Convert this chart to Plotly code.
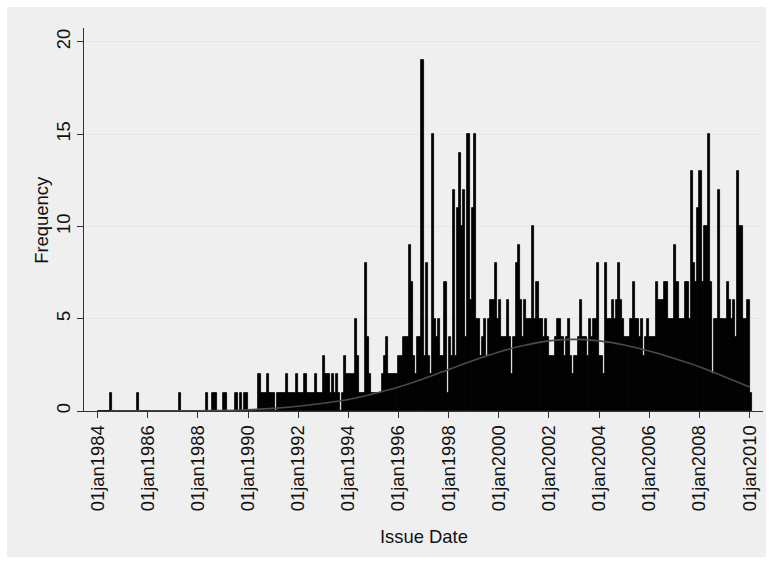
import plotly.graph_objects as go

# Monthly frequencies (Jan..Dec of each year)
counts_1984 = [0, 0, 0, 0, 0, 0, 1, 0, 0, 0, 0, 0]
counts_1985 = [0, 0, 0, 0, 0, 0, 0, 1, 0, 0, 0, 0]
counts_1986 = [0, 0, 0, 0, 0, 0, 0, 0, 0, 0, 0, 0]
counts_1987 = [0, 0, 0, 1, 0, 0, 0, 0, 0, 0, 0, 0]
counts_1988 = [0, 0, 0, 0, 1, 0, 0, 1, 1, 0, 0, 0]
counts_1989 = [1, 1, 0, 0, 0, 0, 1, 0, 1, 0, 1, 1]
counts_1990 = [0, 0, 0, 0, 0, 2, 1, 1, 1, 2, 1, 1]
counts_1991 = [1, 0, 1, 1, 1, 1, 2, 1, 1, 1, 1, 2]
counts_1992 = [1, 1, 1, 2, 1, 1, 1, 1, 2, 1, 1, 1]
counts_1993 = [3, 2, 2, 1, 2, 1, 2, 1, 0, 1, 3, 2]
counts_1994 = [2, 2, 2, 5, 3, 1, 1, 1, 8, 4, 2, 1]
counts_1995 = [1, 1, 1, 1, 2, 3, 4, 2, 2, 2, 2, 2]
counts_1996 = [3, 3, 4, 4, 4, 9, 7, 3, 2, 4, 4, 19]
counts_1997 = [3, 8, 3, 2, 15, 5, 4, 5, 3, 3, 7, 1]
counts_1998 = [4, 3, 12, 3, 11, 14, 10, 12, 4, 15, 6, 11]
counts_1999 = [15, 5, 5, 3, 4, 5, 3, 5, 6, 6, 8, 5]
counts_2000 = [6, 4, 4, 4, 6, 4, 2, 4, 8, 9, 6, 4]
counts_2001 = [6, 5, 5, 5, 10, 5, 7, 5, 5, 4, 5, 4]
counts_2002 = [3, 3, 3, 4, 5, 5, 4, 3, 4, 5, 3, 2]
counts_2003 = [3, 3, 4, 6, 4, 4, 3, 5, 4, 5, 5, 8]
counts_2004 = [3, 3, 2, 8, 5, 5, 6, 5, 6, 8, 6, 5]
counts_2005 = [4, 4, 4, 5, 7, 5, 5, 4, 5, 3, 4, 5]
counts_2006 = [4, 4, 4, 7, 6, 6, 6, 7, 7, 5, 5, 5]
counts_2007 = [9, 7, 5, 5, 5, 7, 7, 5, 13, 8, 7, 11]
counts_2008 = [13, 7, 10, 10, 15, 7, 2, 5, 5, 12, 5, 5]
counts_2009 = [5, 7, 6, 5, 6, 4, 13, 10, 10, 5, 5, 6]
counts_2010 = [1]

years = list(range(1984, 2011))
yearly_counts = [counts_1984, counts_1985, counts_1986, counts_1987, counts_1988,
                 counts_1989, counts_1990, counts_1991, counts_1992, counts_1993,
                 counts_1994, counts_1995, counts_1996, counts_1997, counts_1998,
                 counts_1999, counts_2000, counts_2001, counts_2002, counts_2003,
                 counts_2004, counts_2005, counts_2006, counts_2007, counts_2008,
                 counts_2009, counts_2010]

# Normal density overlay (frequency scale)
curve_years = [1984.5, 1986, 1988, 1989, 1990, 1991, 1992, 1993, 1994, 1995, 1996,
               1997, 1998, 1999, 2000, 2001, 2002, 2003, 2004, 2005, 2006, 2007,
               2008, 2009, 2010]
curve_vals = [0.0, 0.0, 0.01, 0.03, 0.07, 0.14, 0.26, 0.42, 0.62, 0.93, 1.3,
              1.75, 2.25, 2.75, 3.2, 3.55, 3.8, 3.88, 3.8, 3.58, 3.25, 2.85,
              2.4, 1.85, 1.3]

tick_years = list(range(1984, 2011, 2))
tick_labels = ["01jan%d" % y for y in tick_years]
y_ticks = [0, 5, 10, 15, 20]

xs, ys = [], []
for yr, vals in zip(years, yearly_counts):
    for i, v in enumerate(vals):
        xs.append(yr + (i + 0.5) / 12.0)
        ys.append(v)

FONT = "Liberation Sans, Arial, Helvetica, sans-serif"
AXC = "#333333"
TXC = "#111111"
FS = 18.4

fig = go.Figure()
fig.add_trace(go.Bar(x=xs, y=ys, width=1 / 12.0,
                     marker=dict(color="black", line=dict(color="black", width=0.8)),
                     showlegend=False, hoverinfo="x+y"))
fig.add_trace(go.Scatter(x=curve_years, y=curve_vals, mode="lines",
                         line=dict(color="#4a4a4a", width=1.6, shape="spline"),
                         showlegend=False))

L, R, T, B = 84, 771 - 763, 28, 565 - 411.5
W, H = 771 - L - R, 565 - T - B

def px(xp):
    return (xp - L) / W

def py(yp):
    return (411.5 - yp) / H

fig.update_layout(
    width=771, height=565,
    margin=dict(l=L, r=R, t=T, b=B, autoexpand=False),
    paper_bgcolor="white", plot_bgcolor="white",
    bargap=0,
    font=dict(family=FONT, size=FS, color=TXC),
    shapes=[dict(type="rect", xref="paper", yref="paper",
                 x0=px(7), x1=px(766), y0=py(558), y1=py(7),
                 fillcolor="#efefef", line=dict(width=0), layer="below")],
    annotations=[
        dict(text="Issue Date", x=px(424), y=py(537), xref="paper", yref="paper",
             showarrow=False, xanchor="center", yanchor="middle",
             font=dict(size=FS, family=FONT, color=TXC)),
        dict(text="Frequency", x=px(42), y=py(220), xref="paper", yref="paper",
             showarrow=False, xanchor="center", yanchor="middle", textangle=-90,
             font=dict(size=FS, family=FONT, color=TXC)),
    ],
)
fig.update_xaxes(range=[1983.46, 2010.535], tickmode="array", tickvals=tick_years,
                 ticktext=tick_labels, tickangle=-90, ticks="outside", ticklen=6,
                 tickcolor=AXC, showline=True, linecolor=AXC, linewidth=1,
                 showgrid=False, zeroline=False, automargin=False,
                 tickfont=dict(size=FS, family=FONT, color=TXC))
fig.update_yaxes(range=[0, 20.75], tickmode="array", tickvals=y_ticks,
                 tickangle=-90, ticks="outside", ticklen=6, tickcolor=AXC,
                 showline=True, linecolor=AXC, linewidth=1,
                 showgrid=True, gridcolor="#e6e6e6", gridwidth=1,
                 zeroline=False, automargin=False,
                 tickfont=dict(size=FS, family=FONT, color=TXC))

fig.write_html("out.html")
